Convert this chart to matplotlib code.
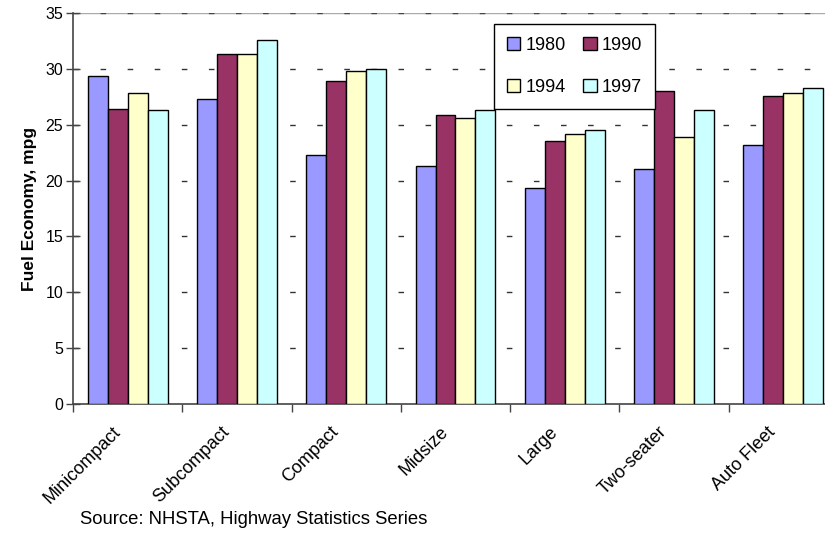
import numpy as np
import matplotlib
matplotlib.use("Agg")
import matplotlib.pyplot as plt
from matplotlib.transforms import ScaledTranslation

plt.rcParams['font.family'] = ['Liberation Sans', 'DejaVu Sans']

# fuel economy by car class, mpg
classes = ['Minicompact', 'Subcompact', 'Compact', 'Midsize', 'Large', 'Two-seater', 'Auto Fleet']
years = ['1980', '1990', '1994', '1997']
mpg_1980 = [29.4, 27.3, 22.3, 21.3, 19.3, 21.0, 23.2]
mpg_1990 = [26.4, 31.3, 28.9, 25.9, 23.5, 28.0, 27.6]
mpg_1994 = [27.8, 31.3, 29.8, 25.6, 24.2, 23.9, 27.8]
mpg_1997 = [26.3, 32.6, 30.0, 26.3, 24.5, 26.3, 28.3]
colors = ['#9999FF', '#993366', '#FFFFCC', '#CCFFFF']

W, H = 825, 533
fig = plt.figure(figsize=(W / 100, H / 100), dpi=100)
# plot area runs a bit past the right edge of the figure
ax = fig.add_axes([73 / W, (H - 404) / H, (838 - 73) / W, (404 - 13) / H])

x = np.arange(len(classes))
bw = 0.183
series = [mpg_1980, mpg_1990, mpg_1994, mpg_1997]
bars = []
for i, (vals, c, yr) in enumerate(zip(series, colors, years)):
    b = ax.bar(x + (i - 1.5) * bw, vals, bw, color=c, edgecolor='black',
               linewidth=1.0, label=yr, zorder=3)
    bars.append(b)

ax.set_xlim(-0.5, len(classes) - 0.5)
ax.set_ylim(0, 35)
ax.set_yticks(np.arange(0, 36, 5))
ax.tick_params(axis='y', direction='inout', length=10, width=1, color='#444444',
               labelsize=11.5, pad=2)

# category ticks sit between groups, labels at group centres
ax.set_xticks(np.arange(len(classes) + 1) - 0.5)
ax.set_xticklabels([])
ax.set_xticks(x, minor=True)
ax.set_xticklabels(classes, minor=True, rotation=45, ha='right',
                   rotation_mode='anchor')
ax.tick_params(axis='x', which='major', direction='out', length=6, width=1, color='#444444')
ax.tick_params(axis='x', which='minor', length=0, pad=9, labelsize=13)
shift = ScaledTranslation(-16 / 100, -7 / 100, fig.dpi_scale_trans)
for lab in ax.get_xticklabels(minor=True):
    lab.set_transform(lab.get_transform() + shift)

for yv in np.arange(5, 35, 5):
    ax.axhline(yv, color='#333333', linewidth=1, linestyle=(0, (4, 15.5)), zorder=1)
ax.axhline(35, color='#aaaaaa', linewidth=1, zorder=1)
ax.axhline(35, color='#444444', linewidth=1, linestyle=(0, (4, 15.5)), zorder=1)

for s in ['top', 'right']:
    ax.spines[s].set_visible(False)
ax.spines['left'].set_color('#444444')
ax.spines['bottom'].set_color('#444444')
ax.spines['left'].set_linewidth(1.2)
ax.spines['bottom'].set_linewidth(1.2)

ax.set_ylabel('Fuel Economy, mpg', fontsize=12.5, fontweight='bold', labelpad=6)

# legend filled row by row: 1980 1990 / 1994 1997
order = [0, 2, 1, 3]
leg = ax.legend([bars[k] for k in order], [years[k] for k in order],
                ncol=2, loc='upper left', bbox_to_anchor=(494 / W, 1 - 24 / H),
                bbox_transform=fig.transFigure, borderaxespad=0, fontsize=13,
                handlelength=0.75, handleheight=0.75, handletextpad=0.3,
                columnspacing=0.95, labelspacing=1.4, borderpad=0.7,
                fancybox=False, framealpha=1, edgecolor='black')
leg.get_frame().set_linewidth(1.0)
leg.set_zorder(5)

fig.text(80 / W, 1 - 519 / H, 'Source: NHSTA, Highway Statistics Series',
         fontsize=13.3, va='center', ha='left')

fig.savefig('out.png', dpi=100)
